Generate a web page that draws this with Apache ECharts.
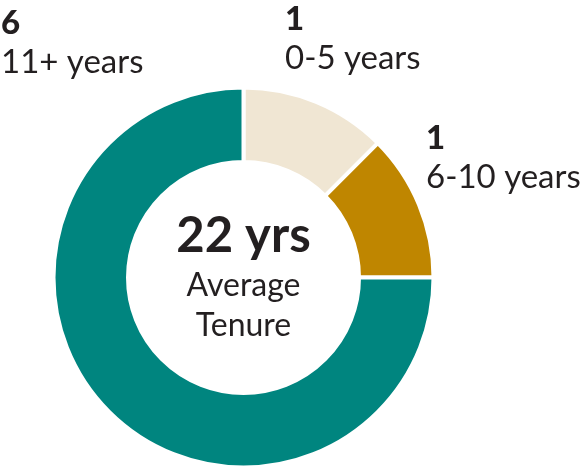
<!DOCTYPE html>
<html>
<head>
<meta charset="utf-8">
<script src="https://cdn.jsdelivr.net/npm/echarts@6/dist/echarts.min.js"></script>
<style>
html,body{margin:0;padding:0;background:#fff;}
#chart{width:583px;height:471px;}
</style>
</head>
<body>
<div id="chart"></div>
<script>
const categories = ['0-5 years', '6-10 years', '11+ years'];
const values = [1, 1, 6];
const colors = ['#f0e6d3', '#bf8600', '#00857f'];
const centerValue = '22 yrs';
const centerLines = ['Average', 'Tenure'];

const labelPos = [
  { x: 285, y: 0 },
  { x: 426, y: 119 },
  { x: 1, y: 4 }
];

const chart = echarts.init(document.getElementById('chart'), null, { renderer: 'canvas' });
chart.setOption({
  animation: false,
  backgroundColor: '#ffffff',
  title: {
    text: '{big|' + centerValue + '}\n' + centerLines.map(t => '{sub|' + t + '}').join('\n'),
    left: 243.5,
    top: 207,
    padding: 0,
    textAlign: 'center',
    textStyle: {
      rich: {
        big: { fontFamily: 'Lato', fontWeight: 'bold', fontSize: 49, lineHeight: 59, color: '#231f20', align: 'center' },
        sub: { fontFamily: 'Lato', fontWeight: 'normal', fontSize: 32, lineHeight: 40, color: '#231f20', align: 'center' }
      }
    }
  },
  series: [{
    type: 'pie',
    center: [243.5, 277.5],
    radius: [115.5, 190],
    startAngle: 90,
    clockwise: true,
    avoidLabelOverlap: false,
    emphasis: { disabled: true },
    itemStyle: { borderColor: '#ffffff', borderWidth: 4 },
    labelLine: { show: false },
    label: {
      show: true,
      position: 'outside',
      fontFamily: 'Lato',
      fontSize: 33,
      color: '#231f20',
      formatter: function (p) { return '{num|' + p.value + '}\n{cat|' + p.name + '}'; },
      rich: {
        num: { fontFamily: 'Lato', fontWeight: 900, fontSize: 33, lineHeight: 38, color: '#231f20', align: 'left' },
        cat: { fontFamily: 'Lato', fontWeight: 'normal', fontSize: 33, lineHeight: 40, color: '#231f20', align: 'left' }
      }
    },
    labelLayout: function (params) {
      const p = labelPos[params.dataIndex];
      return { x: p.x, y: p.y, align: 'left', verticalAlign: 'top', hideOverlap: false };
    },
    data: categories.map((name, i) => ({ name: name, value: values[i], itemStyle: { color: colors[i] } }))
  }]
});
</script>
</body>
</html>
